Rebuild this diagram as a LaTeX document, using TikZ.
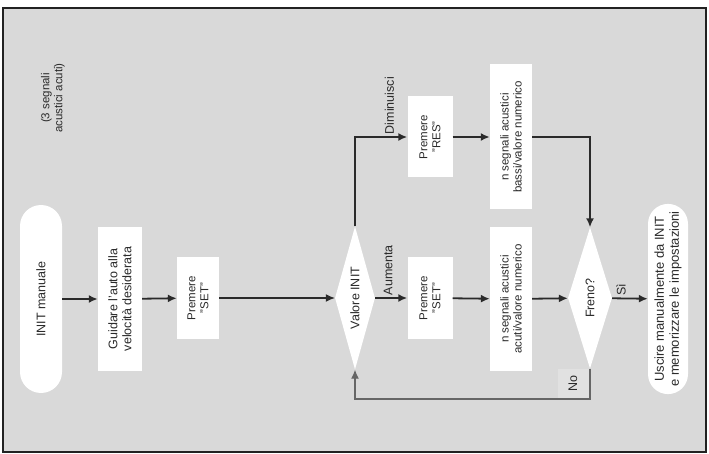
\documentclass[tikz,border=0pt]{standalone}
\usepackage{fontspec}
\setmainfont{Liberation Sans}
\usetikzlibrary{arrows.meta,positioning,shapes,calc}
\definecolor{panel}{HTML}{D9D9D9}
\definecolor{ink}{HTML}{2A2A2A}
\definecolor{frameink}{HTML}{222222}
\definecolor{loopgray}{HTML}{666666}
\definecolor{nobg}{HTML}{E1E1E1}
\tikzset{
  flowbox/.style={fill=white,rotate=90,inner sep=2pt,align=center,
                  text=ink,font=\fontsize{11.5}{13}\selectfont},
  termbox/.style={fill=white,rotate=90,rounded rectangle,inner sep=2pt,
                  align=center,text=ink,font=\fontsize{12.5}{14}\selectfont},
  decision/.style={fill=white,rotate=90,diamond,aspect=3.5,inner sep=0pt,
                   text=ink,font=\fontsize{12.5}{14}\selectfont},
  branchlbl/.style={rotate=90,anchor=west,inner sep=2pt,text=ink,
                    font=\fontsize{12.5}{14}\selectfont},
  flowarr/.style={-{Latex[length=9pt,width=8pt]},line width=1.8pt,color=ink},
  thinarr/.style={-{Latex[length=9pt,width=8pt]},line width=1.1pt,color=ink},
  looparr/.style={-{Latex[length=9pt,width=8pt]},line width=1.3pt,color=loopgray}
}

\begin{document}
\begin{tikzpicture}[x=1pt,y=-1pt]
  \useasboundingbox (0,0) rectangle (709,454);
  \fill[white] (0,0) rectangle (709,454);
  \draw[fill=panel,draw=frameink,line width=2.5pt] (3,8) rectangle (706,452);

  % main row
  \node[termbox,minimum width=192pt,minimum height=42pt] (init) at (41,299) {INIT manuale};
  \node[flowbox,minimum width=144pt,minimum height=44pt,font=\fontsize{12.5}{14}\selectfont] (guida) at (120,299)
    {Guidare l'auto alla\\velocità desiderata};
  \node[flowbox,minimum width=81pt,minimum height=42pt] (set1) at (198,298) {Premere\\"SET"};
  \node[decision,minimum width=143pt,minimum height=40pt] (vinit) at (355,298) {Valore INIT};
  \node[flowbox,minimum width=81pt,minimum height=45pt] (set2) at (430,298) {Premere\\"SET"};
  \node[flowbox,minimum width=144pt,minimum height=42pt] (acuti) at (511,299)
    {n segnali acustici\\acuti/valore numerico};
  \node[decision,minimum width=141pt,minimum height=44pt] (freno) at (590,298) {Freno?};
  \node[termbox,minimum width=188pt,minimum height=40pt,font=\fontsize{13}{15}\selectfont] (uscire) at (668,299)
    {Uscire manualmente da INIT\\e memorizzare le impostazioni};

  % upper row
  \node[flowbox,minimum width=81pt,minimum height=45pt] (res) at (430,137) {Premere\\"RES"};
  \node[flowbox,minimum width=145pt,minimum height=42pt] (bassi) at (511,137)
    {n segnali acustici\\bassi/valore numerico};

  \node[rotate=90,align=center,text=ink,font=\fontsize{11.5}{13}\selectfont] (note) at (53,98)
    {(3 segnali\\acustici acuti)};

  \draw[flowarr] (init) -- (guida);
  \draw[flowarr] (guida) -- (set1);
  \draw[thinarr] (set1) -- (vinit);
  \draw[flowarr] (vinit) -- node[branchlbl,pos=0.4] {Aumenta} (set2);
  \draw[flowarr] (set2) -- (acuti);
  \draw[flowarr] (acuti) -- (freno);
  \draw[flowarr] (freno) -- node[branchlbl,pos=0.25] {Sì} (uscire);
  \draw[flowarr] (vinit.east) |- node[branchlbl,pos=0.83] {Diminuisci} (res);
  \draw[flowarr] (res) -- (bassi);
  \draw[flowarr] (bassi) -| (freno.east);

  % loop back
  \coordinate (nocorner) at (590,399);
  \node[rotate=90,fill=nobg,minimum width=31pt,minimum height=31pt,inner sep=0pt,
        text=ink,font=\fontsize{12.5}{14}\selectfont] (nolbl) at (573,384) {No};
  \draw[looparr] (freno.west) -- (nocorner) -| (vinit.west);
\end{tikzpicture}
\end{document}
